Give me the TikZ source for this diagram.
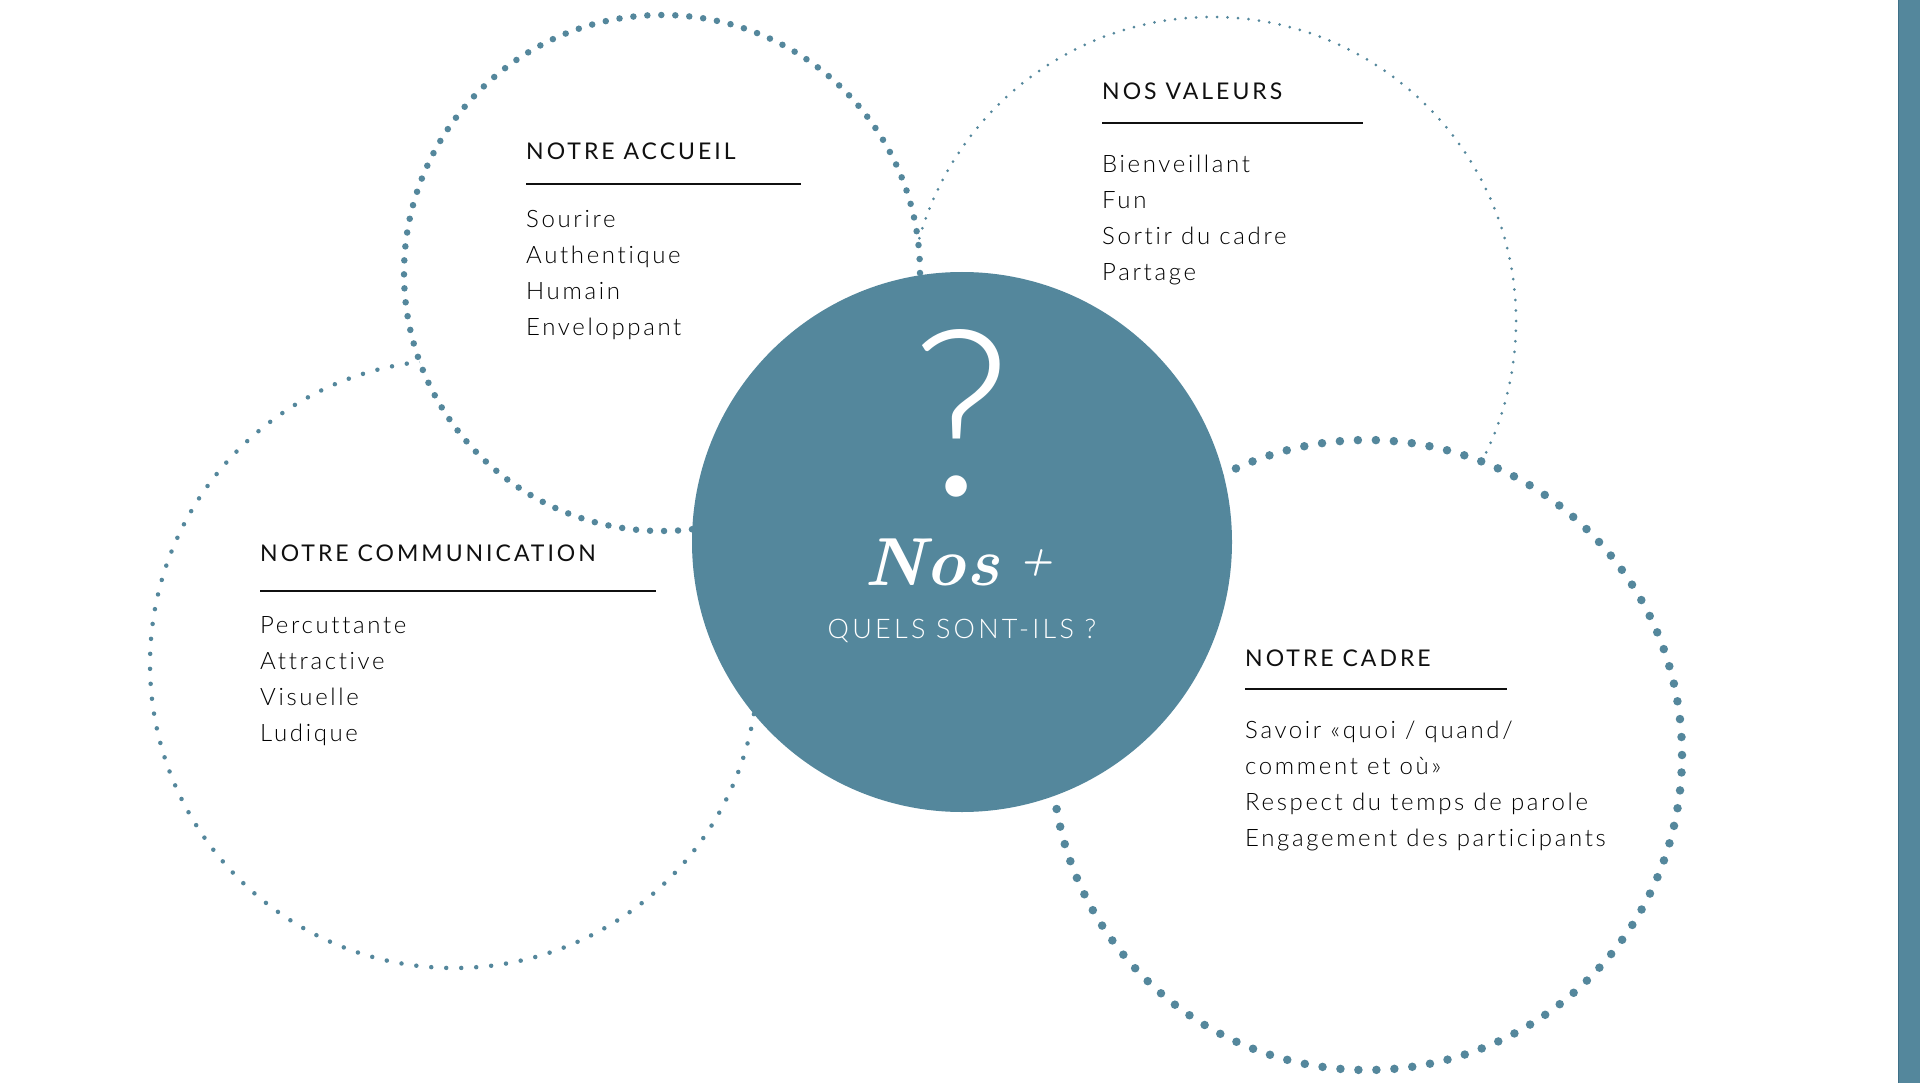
\documentclass[tikz,border=0pt]{standalone}
\usepackage{fontspec}
\newfontfamily\headfont[LetterSpace=13,Ligatures={NoCommon,NoRequired}]{Lato}
\newfontfamily\bodyfont[LetterSpace=11,Ligatures={NoCommon,NoRequired}]{Lato Light}
\newfontfamily\markfont{Lato Light}
\newfontfamily\quelsfont[LetterSpace=12,Ligatures={NoCommon,NoRequired}]{Lato Light}
\definecolor{nosblue}{HTML}{54879C}
\definecolor{nosedge}{HTML}{3F7087}
\definecolor{headtext}{HTML}{101010}
\definecolor{bodytext}{HTML}{000000}
\begin{document}
\begin{tikzpicture}[x=1pt,y=-1pt,
    ring/.style={draw=nosblue,line cap=round},
    bigdots/.style={ring,line width=8.5pt,dash pattern=on 0pt off 18pt},
    meddots/.style={ring,line width=6.5pt,dash pattern=on 0pt off 14pt},
    smalldots/.style={ring,line width=4.5pt,dash pattern=on 0pt off 15pt},
    tinydots/.style={ring,line width=3pt,dash pattern=on 0pt off 10.5pt},
    head/.style={anchor=base west,inner sep=0pt,text=headtext,font=\headfont\fontsize{23}{23}\selectfont},
    item/.style={anchor=base west,inner sep=0pt,text=bodytext,font=\bodyfont\fontsize{24}{24}\selectfont},
    rule/.style={draw=headtext,line width=2pt}]
    \fill[white] (0,0) rectangle (1920,1083);
    \useasboundingbox (0,0) rectangle (1920,1083);
    % the four rings, then the centre disc
    \draw[tinydots] (1212,321) circle[radius=304pt];
    \draw[smalldots] (454,664) circle[radius=304pt];
    \draw[meddots,fill=white] (662,273) circle[radius=258pt];
    \draw[bigdots,fill=white] (1367,755) circle[radius=315pt];
    \fill[nosblue] (962,542) circle[radius=270pt];
    % side bar
    \fill[nosblue] (1898,0) rectangle (1920,1083);
    \draw[nosedge,line width=1pt] (1898.5,0) -- (1898.5,1083);
    % centre
    \node[anchor=base,inner sep=0pt,text=white,font=\markfont\fontsize{232}{232}\selectfont] (qmark) at (962,495) {?};
    \node[anchor=base,inner sep=0pt,text=white,font=\rmfamily\bfseries\itshape\fontsize{68}{68}\selectfont] (nos) at (932,585) {Nos};
    \node[anchor=base,inner sep=0pt,text=white,font=\rmfamily\bfseries\itshape\fontsize{38}{38}\selectfont] (plus) at (1036,572) {+};
    \node[anchor=base,inner sep=0pt,text=white,font=\quelsfont\fontsize{27}{27}\selectfont] (quels) at (962,638) {QUELS SONT-ILS ?};
    % notre accueil
    \node[head] (hacc) at (526,160) {NOTRE ACCUEIL};
    \draw[rule] (526,184) -- (801,184);
    \node[item] (acc1) at (526,228) {Sourire};
    \node[item] (acc2) at (526,264) {Authentique};
    \node[item] (acc3) at (526,300) {Humain};
    \node[item] (acc4) at (526,336) {Enveloppant};
    % nos valeurs
    \node[head] (hval) at (1102,100) {NOS VALEURS};
    \draw[rule] (1102,123) -- (1363,123);
    \node[item] (val1) at (1102,173) {Bienveillant};
    \node[item] (val2) at (1102,209) {Fun};
    \node[item] (val3) at (1102,245) {Sortir du cadre};
    \node[item] (val4) at (1102,281) {Partage};
    % notre communication
    \node[head] (hcom) at (260,561) {NOTRE COMMUNICATION};
    \draw[rule] (260,591) -- (656,591);
    \node[item] (com1) at (260,633) {Percuttante};
    \node[item] (com2) at (260,669) {Attractive};
    \node[item] (com3) at (260,705) {Visuelle};
    \node[item] (com4) at (260,741) {Ludique};
    % notre cadre
    \node[head] (hcad) at (1245,666) {NOTRE CADRE};
    \draw[rule] (1245,689) -- (1507,689);
    \node[item] (cad1) at (1245,738) {Savoir «quoi / quand/};
    \node[item] (cad2) at (1245,774) {comment et où»};
    \node[item] (cad3) at (1245,810) {Respect du temps de parole};
    \node[item] (cad4) at (1245,846) {Engagement des participants};
\end{tikzpicture}
\end{document}
